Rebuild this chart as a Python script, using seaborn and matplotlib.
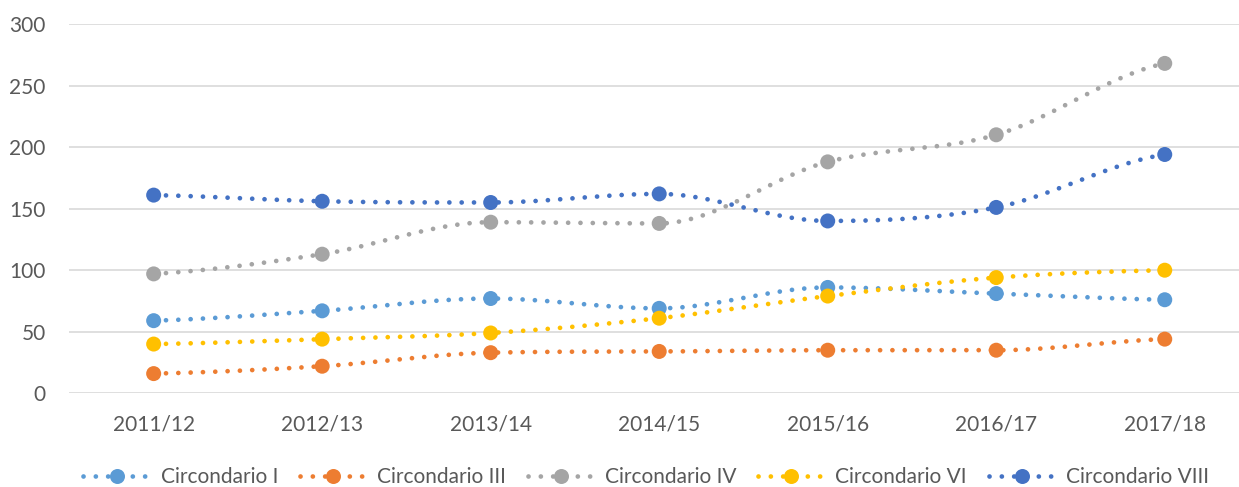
import numpy as np
import pandas as pd
import matplotlib
matplotlib.use("Agg")
import matplotlib.pyplot as plt
from matplotlib.lines import Line2D
import seaborn as sns

# Anni scolastici e numero per circondario
years = ["2011/12", "2012/13", "2013/14", "2014/15", "2015/16", "2016/17", "2017/18"]
circ_I = [59, 67, 77, 69, 86, 81, 76]
circ_III = [16, 22, 33, 34, 35, 35, 44]
circ_IV = [97, 113, 139, 138, 188, 210, 268]
circ_VI = [40, 44, 49, 61, 79, 94, 100]
circ_VIII = [161, 156, 155, 162, 140, 151, 194]

series_names = ["Circondario I", "Circondario III", "Circondario IV", "Circondario VI", "Circondario VIII"]
series_values = [circ_I, circ_III, circ_IV, circ_VI, circ_VIII]
colors = ["#5B9BD5", "#ED7D31", "#A5A5A5", "#FFC000", "#4472C4"]
y_ticks = [0, 50, 100, 150, 200, 250, 300]

sns.set_theme(style="white")
plt.rcParams["font.family"] = ["Lato", "DejaVu Sans"]
TEXT = "#595959"
FS = 15


def smooth(xs, ys, n=40):
    """Smoothed line through the points: cubic Hermite segments with
    central-difference tangents, flattened at local extrema."""
    x = np.asarray(xs, float)
    y = np.asarray(ys, float)
    k = len(y)
    d = np.diff(y) / np.diff(x)
    m = np.zeros(k)
    m[0] = d[0] / 2.0
    m[-1] = d[-1] / 2.0
    for i in range(1, k - 1):
        if d[i - 1] * d[i] <= 0:
            m[i] = 0.0
        else:
            m[i] = (d[i - 1] + d[i]) / 2.0
    # keep each segment monotone
    for i in range(k - 1):
        if d[i] == 0:
            m[i] = m[i + 1] = 0.0
            continue
        a, b = m[i] / d[i], m[i + 1] / d[i]
        s = a * a + b * b
        if s > 9:
            tau = 3.0 / np.sqrt(s)
            m[i], m[i + 1] = tau * a * d[i], tau * b * d[i]
    t = np.linspace(0, 1, n)
    h00 = 2 * t ** 3 - 3 * t ** 2 + 1
    h10 = t ** 3 - 2 * t ** 2 + t
    h01 = -2 * t ** 3 + 3 * t ** 2
    h11 = t ** 3 - t ** 2
    xs_out, ys_out = [], []
    for i in range(k - 1):
        h = x[i + 1] - x[i]
        yy = h00 * y[i] + h10 * h * m[i] + h01 * y[i + 1] + h11 * h * m[i + 1]
        xx = x[i] + t * h
        if i > 0:
            xx, yy = xx[1:], yy[1:]
        xs_out.append(xx)
        ys_out.append(yy)
    return np.concatenate(xs_out), np.concatenate(ys_out)


fig = plt.figure(figsize=(12.39, 4.87), dpi=100)
ax = fig.add_axes([69.4 / 1239, 93.7 / 487, (1249 - 69.4) / 1239, (463 - 93.7) / 487])

x_idx = np.arange(len(years))
dot_lw = 3.4
dot_style = (0, (0.01, 2.6))
marker_size = 10.8

for name, vals, col in zip(series_names, series_values, colors):
    cx, cy = smooth(x_idx, vals)
    cdf = pd.DataFrame({"x": cx, "y": cy})
    sns.lineplot(data=cdf, x="x", y="y", ax=ax, sort=False, estimator=None,
                 color=col, linewidth=dot_lw, linestyle=dot_style,
                 dash_capstyle="round", solid_capstyle="round", zorder=3)
    pdf = pd.DataFrame({"x": x_idx, "y": vals})
    sns.scatterplot(data=pdf, x="x", y="y", ax=ax, color=col, s=marker_size ** 2,
                    edgecolor="none", linewidth=0, zorder=4)

ax.set_xlim(-0.5, len(years) - 0.5)
ax.set_ylim(0, 300)
ax.set_xticks(x_idx)
ax.set_xticklabels(years)
ax.set_yticks(y_ticks)
ax.set_yticklabels([str(v) for v in y_ticks])
ax.set_xlabel("")
ax.set_ylabel("")
ax.grid(axis="y", color="#D9D9D9", linewidth=1.2)
ax.grid(axis="x", visible=False)
ax.set_axisbelow(True)
for sp in ax.spines.values():
    sp.set_visible(False)
ax.tick_params(axis="x", length=0, pad=15, labelsize=FS, labelcolor=TEXT)
ax.tick_params(axis="y", length=0, pad=17, labelsize=FS, labelcolor=TEXT)

handles = [Line2D([0], [0], color=c, linewidth=dot_lw, linestyle=dot_style,
                  dash_capstyle="round", marker="o", markersize=marker_size,
                  markeredgewidth=0)
           for c in colors]
fig.legend(handles, series_names, loc="center", bbox_to_anchor=(646 / 1239, 1 - 477 / 487),
           ncol=5, frameon=False, fontsize=FS, labelcolor=TEXT,
           handlelength=3.2, handletextpad=0.5, columnspacing=1.05)

fig.savefig("out.png", dpi=100)
